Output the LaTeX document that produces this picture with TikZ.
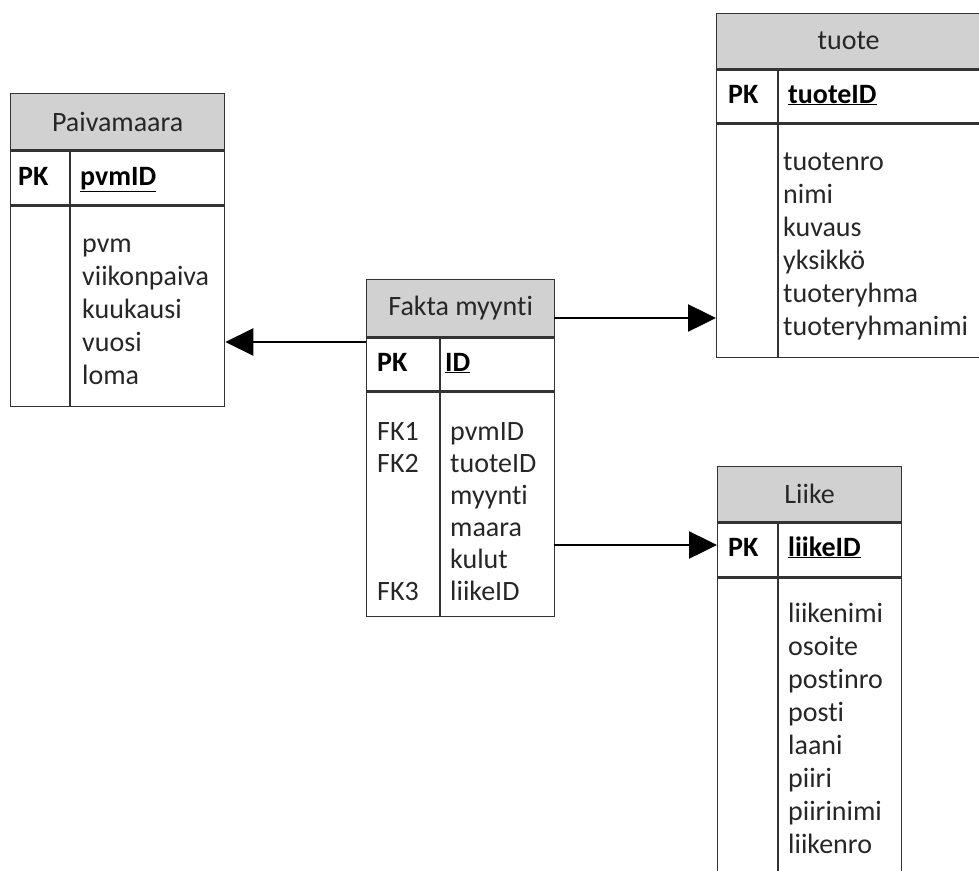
\documentclass[tikz,border=0pt]{standalone}
\usepackage{fontspec}
\setmainfont{Carlito}[Ligatures=NoCommon]
\usetikzlibrary{arrows.meta,positioning}

\tikzset{
  tblhead/.style={draw=black!80,fill=black!18,line width=1.3pt,inner sep=0pt,
    anchor=north west,font=\fontsize{28}{33}\selectfont,text=black!85},
  tblrow/.style={draw=black!80,line width=1.3pt,inner sep=0pt},
  tblline/.style={draw=black!80,line width=1.3pt},
  keytext/.style={anchor=base west,inner sep=0pt,font=\fontsize{28}{33}\selectfont\bfseries},
  attr/.style={anchor=base west,inner sep=0pt,font=\fontsize{28}{33}\selectfont,text=black!85},
  fk/.style={line width=2.5pt,-{Triangle[length=28pt,width=27pt]}},
}

\begin{document}
\begin{tikzpicture}[x=1pt,y=-1pt]
  \useasboundingbox (0,0) rectangle (979,870);

  % Paivamaara
  \node[tblhead,minimum width=214pt,minimum height=56pt] (paiva) at (10,93) {Paivamaara};
  \node[tblrow,minimum width=214pt,minimum height=54pt,below=0pt of paiva] (paivapk) {};
  \node[tblrow,minimum width=214pt,minimum height=200pt,below=0pt of paivapk] (paivabody) {};
  \draw[tblline] ([xshift=60pt]paivapk.north west) -- ([xshift=60pt]paivabody.south west);
  \node[keytext] (paiva-pk) at (18,185) {PK};
  \node[keytext] (paiva-key) at (80,185) {\underline{pvmID}};
  \foreach \t [count=\i from 0] in {pvm,viikonpaiva,kuukausi,vuosi,loma}
    \node[attr] (paiva-a\i) at (82,252+33*\i) {\t};

  % Fakta myynti
  \node[tblhead,minimum width=188pt,minimum height=57pt] (fakta) at (366,279) {Fakta myynti};
  \node[tblrow,minimum width=188pt,minimum height=53pt,below=0pt of fakta] (faktapk) {};
  \node[tblrow,minimum width=188pt,minimum height=224pt,below=0pt of faktapk] (faktabody) {};
  \draw[tblline] ([xshift=74pt]faktapk.north west) -- ([xshift=74pt]faktabody.south west);
  \node[keytext] (fakta-pk) at (377,371) {PK};
  \node[keytext] (fakta-key) at (445,371) {\underline{ID}};
  \node[attr] (fakta-fk1) at (377,440) {FK1};
  \node[attr] (fakta-fk2) at (377,472) {FK2};
  \node[attr] (fakta-fk3) at (377,600) {FK3};
  \foreach \t [count=\i from 0] in {pvmID,tuoteID,myynti,maara,kulut,liikeID}
    \node[attr] (fakta-a\i) at (450,440+32*\i) {\t};

  % tuote
  \node[tblhead,minimum width=264pt,minimum height=55pt] (tuote) at (716,13) {tuote};
  \node[tblrow,minimum width=264pt,minimum height=53pt,below=0pt of tuote] (tuotepk) {};
  \node[tblrow,minimum width=264pt,minimum height=233pt,below=0pt of tuotepk] (tuotebody) {};
  \draw[tblline] ([xshift=62pt]tuotepk.north west) -- ([xshift=62pt]tuotebody.south west);
  \node[keytext] (tuote-pk) at (728,103) {PK};
  \node[keytext] (tuote-key) at (788,103) {\underline{tuoteID}};
  \foreach \t [count=\i from 0] in {tuotenro,nimi,kuvaus,yksikkö,tuoteryhma,tuoteryhmanimi}
    \node[attr] (tuote-a\i) at (783,170+33*\i) {\t};

  % Liike
  \node[tblhead,minimum width=184pt,minimum height=55pt] (liike) at (717,466) {Liike};
  \node[tblrow,minimum width=184pt,minimum height=54pt,below=0pt of liike] (liikepk) {};
  \node[tblrow,minimum width=184pt,minimum height=310pt,below=0pt of liikepk] (liikebody) {};
  \draw[tblline] ([xshift=61pt]liikepk.north west) -- ([xshift=61pt]liikebody.south west);
  \node[keytext] (liike-pk) at (728,556) {PK};
  \node[keytext] (liike-key) at (788,556) {\underline{liikeID}};
  \foreach \t [count=\i from 0] in {liikenimi,osoite,postinro,posti,laani,piiri,piirinimi,liikenro}
    \node[attr] (liike-a\i) at (788,622+33*\i) {\t};

  % viiteyhteydet
  \coordinate (c1) at (366,342);
  \coordinate (c2) at (554,318);
  \coordinate (c3) at (554,545);
  \draw[fk] (c1) -- (c1 -| paivabody.east);
  \draw[fk] (c2) -- (c2 -| tuotebody.west);
  \draw[fk] (c3) -- (c3 -| liikepk.west);
\end{tikzpicture}
\end{document}
